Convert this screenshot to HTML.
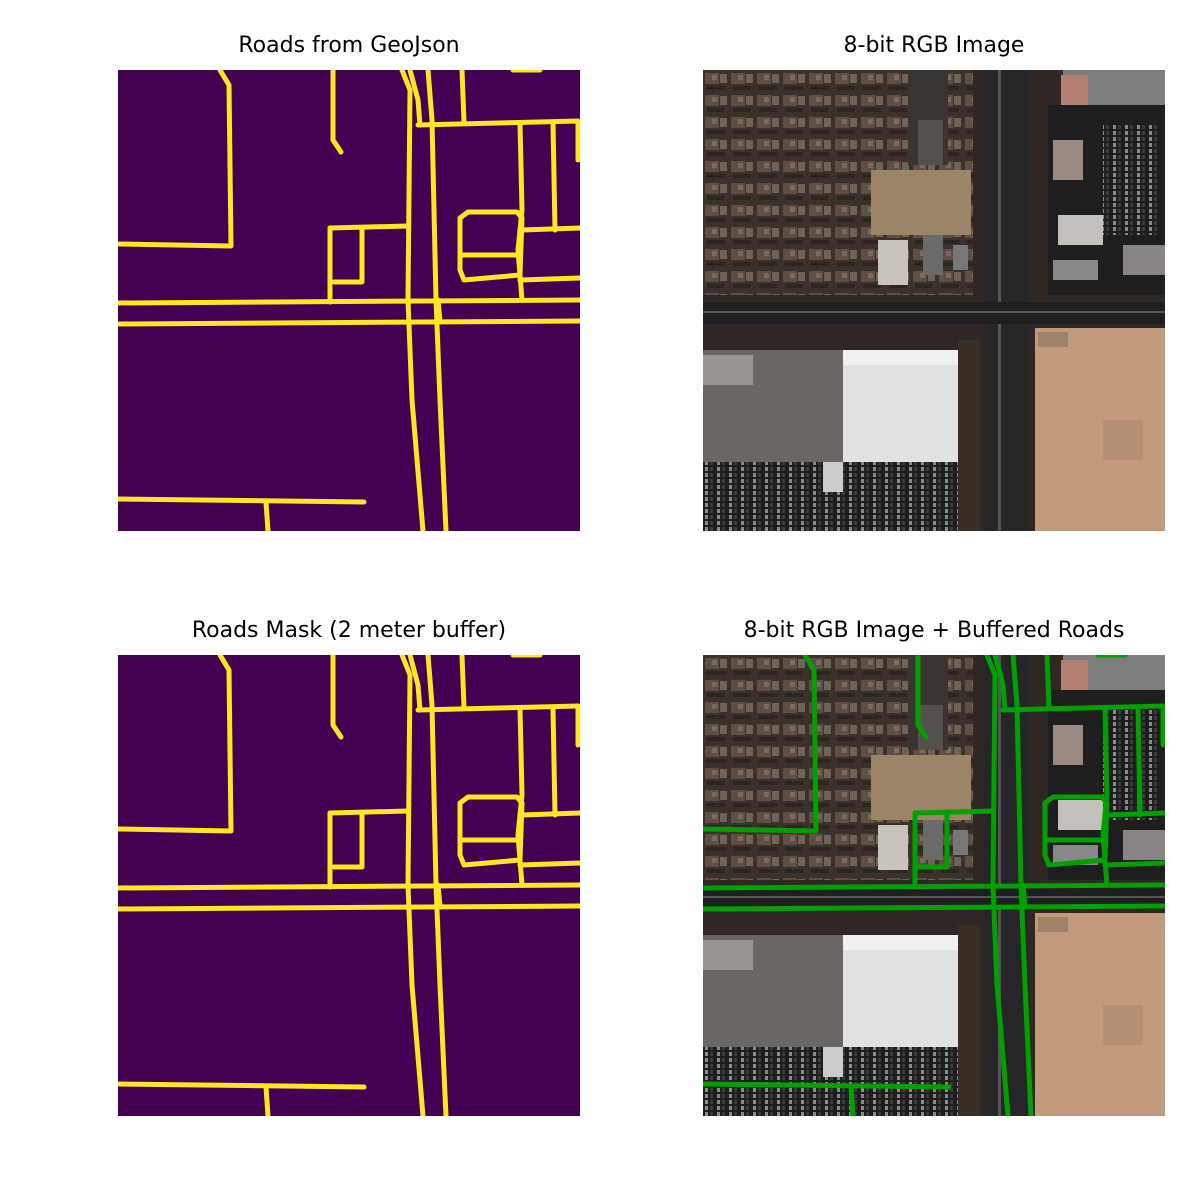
<!DOCTYPE html>
<html><head><meta charset="utf-8"><style>
body{margin:0;background:#fff;}
svg{display:block;font-family:"DejaVu Sans","Liberation Sans",sans-serif;}
</style></head><body>
<svg id="fig" width="1200" height="1200" viewBox="0 0 1200 1200">
<defs>
<pattern id="houses" width="26" height="22" patternUnits="userSpaceOnUse">
<rect width="26" height="22" fill="#3a312b"/>
<rect x="2" y="3" width="14" height="11" fill="#5e4e43"/>
<rect x="17" y="4" width="7" height="9" fill="#6f6257"/>
<rect x="4" y="16" width="18" height="4" fill="#2c2622"/>
<rect x="9" y="5" width="5" height="5" fill="#7a6a5e"/>
</pattern>
<pattern id="lot" width="12" height="6" patternUnits="userSpaceOnUse">
<rect width="12" height="6" fill="#1e1e20"/>
<rect x="2" y="1" width="3" height="4" fill="#8a8a8a"/>
<rect x="7" y="1" width="3" height="4" fill="#3a3a3a"/>
</pattern>
<clipPath id="c1"><rect x="0" y="0" width="462" height="461"/></clipPath>
</defs>
<text x="349" y="52" font-size="22" text-anchor="middle">Roads from GeoJson</text>
<text x="934" y="52" font-size="22" text-anchor="middle">8-bit RGB Image</text>
<text x="349" y="637" font-size="22" text-anchor="middle">Roads Mask (2 meter buffer)</text>
<text x="934" y="637" font-size="22" text-anchor="middle">8-bit RGB Image + Buffered Roads</text>
<g id="p1" transform="translate(118,70)" clip-path="url(#c1)"><rect width="462" height="461" fill="#440154"/></g>
<g id="p2" transform="translate(703,70)" clip-path="url(#c1)"></g>
<g id="p3" transform="translate(118,655)" clip-path="url(#c1)"><rect width="462" height="461" fill="#440154"/></g>
<g id="p4" transform="translate(703,655)" clip-path="url(#c1)"></g>
</svg>
<script>
// road polylines in panel-local pixel coordinates (x,y pairs)
const roadNames = ["west-curve","north-stub","main-west","main-link","main-east","east-stub","north-horizontal","mid-vertical-1","mid-vertical-2","edge-vertical","block-loop","block-middle","east-branch-1","east-branch-2","small-west","small-top","small-loop","cross-road-1","cross-road-2","median-link","south-road","south-stub","top-edge"];
const roadCoords = [
 [102,0,111,15,113,176,0,174],
 [215,0,215,70,223,82],
 [284,0,292,20,290,230,294,330,305,461],
 [292,0,300,30,302,55],
 [310,0,314,50,318,230,322,330,328,461],
 [344,0,346,52],
 [300,55,460,51],
 [402,53,404,140,400,180,404,230],
 [435,53,437,160],
 [460,51,460,90],
 [350,142,399,142,404,148,402,205,346,210,342,200,342,148,350,142],
 [342,185,400,185],
 [404,160,462,158],
 [402,210,462,208],
 [212,158,212,232],
 [212,158,290,156],
 [216,212,244,212,244,158],
 [0,233,462,230],
 [0,254,462,251],
 [320,230,322,251],
 [0,429,246,432],
 [148,432,150,461],
 [395,0,422,0]
];
const NS="http://www.w3.org/2000/svg";
function mk(tag,attrs,parent){const e=document.createElementNS(NS,tag);for(const k in attrs)e.setAttribute(k,attrs[k]);parent.appendChild(e);return e;}
function drawRoads(g,color,w,prefix){
 roadCoords.forEach((c,i)=>{
  let pts=[];for(let j=0;j<c.length;j+=2)pts.push(c[j]+","+c[j+1]);
  const p=mk("polyline",{points:pts.join(" "),fill:"none",stroke:color,"stroke-width":w,"stroke-linejoin":"round","stroke-linecap":"round"},g);
  
  
 });
}
function drawSat(g){
 const r=(x,y,w,h,f)=>mk("rect",{x:x,y:y,width:w,height:h,fill:f},g);
 r(0,0,462,461,"#2e2724");
 r(0,0,270,225,"url(#houses)");
 r(0,165,240,60,"url(#houses)");
 r(125,0,40,150,"url(#houses)");
 r(168,100,100,65,"#9c8466");
 r(205,0,40,95,"#3a3430");
 r(215,50,25,45,"#55504c");
 r(175,170,30,45,"#c9c3bd");
 r(220,165,20,40,"#6a6a6a");
 r(250,175,15,25,"#777");
 r(280,0,45,461,"#262628");
 r(295,0,3,461,"#555");
 r(0,232,462,22,"#1f1f21");
 r(0,241,462,2,"#555");
 r(360,0,102,35,"#7d7d80");
 r(358,5,27,30,"#b07f72");
 r(345,35,117,190,"#1e1e20");
 r(350,70,30,40,"#9a8a82");
 r(355,145,45,30,"#c4c0bc");
 r(350,190,45,20,"#888");
 r(420,175,42,30,"#8a8585");
 r(400,55,55,110,"url(#lot)");
 r(0,280,140,112,"#6b6663");
 r(0,285,50,30,"#9a9590");
 r(140,280,115,112,"#e2e2e4");
 r(140,280,115,15,"#f0f0f0");
 r(0,392,265,69,"url(#lot)");
 r(120,392,20,30,"#ccc");
 r(255,270,22,191,"#3a2d26");
 r(332,258,130,203,"#c29b7c");
 r(335,262,30,15,"#a0826a");
 r(400,350,40,40,"#b59073");
}
drawRoads(document.getElementById("p1"),"#fde725",5,"geojson-road");
drawSat(document.getElementById("p2"));
drawRoads(document.getElementById("p3"),"#fde725",5,"mask-road");
drawSat(document.getElementById("p4"));
drawRoads(document.getElementById("p4"),"#00a000",5,"buffered-road");
</script>
</body></html>
